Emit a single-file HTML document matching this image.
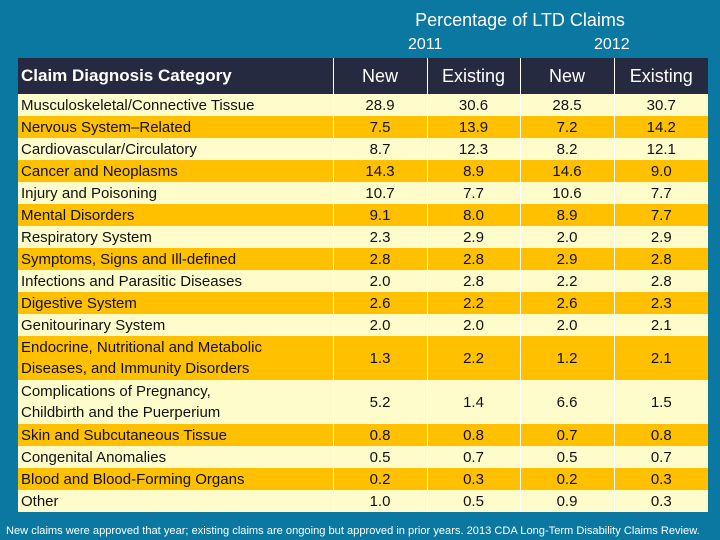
<!DOCTYPE html>
<html><head><meta charset="utf-8"><style>
body{margin:0;width:720px;height:540px;background:#0a78a0;position:relative;overflow:hidden;font-family:"Liberation Sans",sans-serif}
.t{position:absolute;color:#fff}
table{position:absolute;left:18px;top:58px;width:690px;border-collapse:collapse;table-layout:fixed}
td,th{padding:0;font-size:15px;color:#111;border-left:1px solid #fff}
td:first-child,th:first-child{border-left:none;text-align:left;padding-left:3px}
th{background:#262a40;color:#fff;height:36px;font-size:18px;font-weight:normal;text-align:center}
th:first-child{font-weight:bold;font-size:17px}
td{text-align:center;height:22px;line-height:21px}
tr.a td{background:#fffccc}tr.b td{background:#ffc000}
tr.d td{height:44px}
</style></head><body>
<div class="t" style="left:400px;top:10px;width:240px;text-align:center;font-size:18px">Percentage of LTD Claims</div>
<div class="t" style="left:408px;top:36px;font-size:16px">2011</div>
<div class="t" style="left:594px;top:36px;font-size:16px">2012</div>
<table>
<colgroup><col style="width:315px"><col style="width:94px"><col style="width:93px"><col style="width:94px"><col style="width:94px"></colgroup>
<tr><th>Claim Diagnosis Category</th><th>New</th><th>Existing</th><th>New</th><th>Existing</th></tr>
<tr class="a"><td>Musculoskeletal/Connective Tissue</td><td>28.9</td><td>30.6</td><td>28.5</td><td>30.7</td></tr>
<tr class="b"><td>Nervous System–Related</td><td>7.5</td><td>13.9</td><td>7.2</td><td>14.2</td></tr>
<tr class="a"><td>Cardiovascular/Circulatory</td><td>8.7</td><td>12.3</td><td>8.2</td><td>12.1</td></tr>
<tr class="b"><td>Cancer and Neoplasms</td><td>14.3</td><td>8.9</td><td>14.6</td><td>9.0</td></tr>
<tr class="a"><td>Injury and Poisoning</td><td>10.7</td><td>7.7</td><td>10.6</td><td>7.7</td></tr>
<tr class="b"><td>Mental Disorders</td><td>9.1</td><td>8.0</td><td>8.9</td><td>7.7</td></tr>
<tr class="a"><td>Respiratory System</td><td>2.3</td><td>2.9</td><td>2.0</td><td>2.9</td></tr>
<tr class="b"><td>Symptoms, Signs and Ill-defined</td><td>2.8</td><td>2.8</td><td>2.9</td><td>2.8</td></tr>
<tr class="a"><td>Infections and Parasitic Diseases</td><td>2.0</td><td>2.8</td><td>2.2</td><td>2.8</td></tr>
<tr class="b"><td>Digestive System</td><td>2.6</td><td>2.2</td><td>2.6</td><td>2.3</td></tr>
<tr class="a"><td>Genitourinary System</td><td>2.0</td><td>2.0</td><td>2.0</td><td>2.1</td></tr>
<tr class="b d"><td>Endocrine, Nutritional and Metabolic<br>Diseases, and Immunity Disorders</td><td>1.3</td><td>2.2</td><td>1.2</td><td>2.1</td></tr>
<tr class="a d"><td>Complications of Pregnancy,<br>Childbirth and the Puerperium</td><td>5.2</td><td>1.4</td><td>6.6</td><td>1.5</td></tr>
<tr class="b"><td>Skin and Subcutaneous Tissue</td><td>0.8</td><td>0.8</td><td>0.7</td><td>0.8</td></tr>
<tr class="a"><td>Congenital Anomalies</td><td>0.5</td><td>0.7</td><td>0.5</td><td>0.7</td></tr>
<tr class="b"><td>Blood and Blood-Forming Organs</td><td>0.2</td><td>0.3</td><td>0.2</td><td>0.3</td></tr>
<tr class="a"><td>Other</td><td>1.0</td><td>0.5</td><td>0.9</td><td>0.3</td></tr>
</table>
<div class="t" style="left:6px;top:525px;font-size:11.1px;white-space:nowrap">New claims were approved that year; existing claims are ongoing but approved in prior years. 2013 CDA Long-Term Disability Claims Review.</div>
</body></html>
